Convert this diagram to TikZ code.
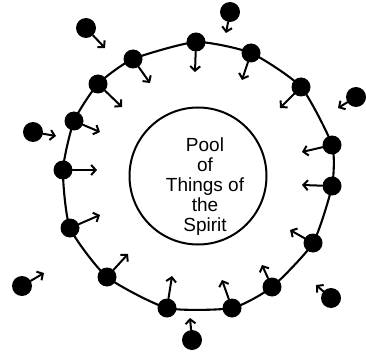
\documentclass[tikz,border=0pt]{standalone}
\usepackage{fontspec}
\setmainfont{Liberation Sans}
\usetikzlibrary{arrows.meta}
\tikzset{
  bead/.style     = {circle, fill=black, inner sep=0pt, minimum size=19pt},
  drop/.style     = {circle, fill=black, inner sep=0pt, minimum size=20pt},
  pull/.style     = {-{Straight Barb[length=4.5pt,width=10pt]}, line width=2pt, line cap=round},
  rim/.style      = {line width=2.1pt},
  pooledge/.style = {draw, circle, line width=2pt, inner sep=0pt, minimum size=137pt},
  pooltext/.style = {font=\fontsize{19}{20}\selectfont, align=center, inner sep=0pt},
}
\begin{document}
\begin{tikzpicture}[x=1pt,y=-1pt]
\path[use as bounding box] (0,0) rectangle (366,358);

% ---- the pool -----------------------------------------------------------
\node[pooledge] (pool) at (198,176) {};
\node[pooltext] (words) at (205,187) {Pool\\of\\Things of\\the\\Spirit};

% ---- the ring -----------------------------------------------------------
\foreach \n/\x/\y in {1/133/59, 2/196/42, 3/251/53, 4/301/87, 5/332/145,
  6/332/186, 7/313/243, 8/272/287, 9/232/308, 10/167/308, 11/107/277,
  12/70/228, 13/63/170, 14/74/121, 15/98/84}{%
  \node[bead] (r\n) at (\x,\y) {};
}
\draw[rim] plot[smooth cycle, tension=0.35] coordinates {(r1.center) (r2.center)
  (r3.center) (r4.center) (r5.center) (r6.center) (r7.center) (r8.center)
  (r9.center) (r10.center) (r11.center) (r12.center) (r13.center) (r14.center)
  (r15.center)};
\foreach \n/\x/\y in {1/150/83, 2/195/72, 3/242/80, 4/280/108, 5/302/152,
  6/302/185, 7/290/230, 8/262/265, 9/222/280, 10/172/276, 11/128/254,
  12/100/215, 13/97/170, 14/100/132, 15/122/107}{%
  \coordinate (t\n) at (\x,\y);
  \draw[pull] (r\n) -- (t\n);
}

% ---- the ones outside ---------------------------------------------------
\foreach \n/\x/\y/\u/\v in {a/86/28/105/48, b/230/12/226/33, c/356/97/338/108,
  d/33/132/56/136, e/22/286/44/273, f/331/298/316/285, g/192/340/190/318}{%
  \node[drop] (o\n) at (\x,\y) {};
  \coordinate (u\n) at (\u,\v);
  \draw[pull] (o\n) -- (u\n);
}

\end{tikzpicture}
\end{document}
